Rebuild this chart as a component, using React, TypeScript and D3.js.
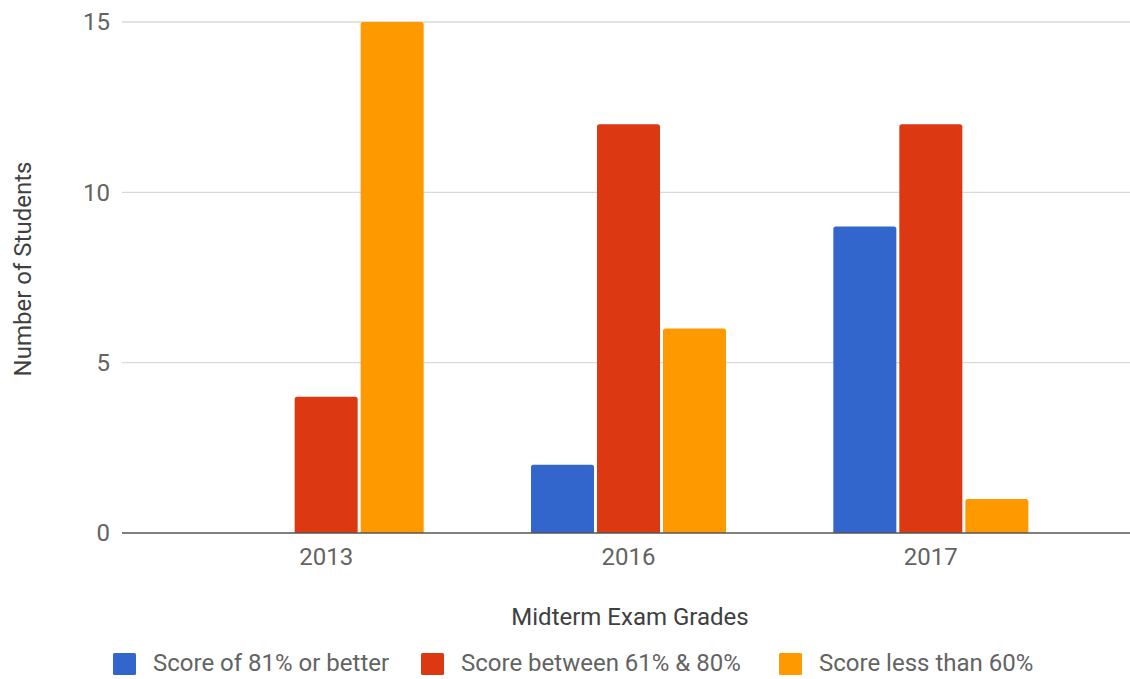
import { useEffect, useRef } from "react";
import * as d3 from "d3";

const years = ["2013", "2016", "2017"];
const seriesNames = [
  "Score of 81% or better",
  "Score between 61% & 80%",
  "Score less than 60%",
];
const seriesColors = ["#3366cc", "#dc3912", "#ff9900"];
const better = [0, 2, 9];
const between = [4, 12, 12];
const lessThan = [15, 6, 1];
const yTicks = [0, 5, 10, 15];

export default function App() {
  const ref = useRef<SVGSVGElement | null>(null);

  useEffect(() => {
    const W = 1130;
    const H = 679;
    const margin = { top: 22, right: 0, bottom: 146, left: 122 };
    const font = "Roboto, Arial, sans-serif";
    const textColor = "#636363";
    const fs = "24px";

    const svg = d3.select(ref.current);
    svg.selectAll("*").remove();

    const values = [better, between, lessThan];

    const y = d3
      .scaleLinear()
      .domain([0, 15])
      .range([H - margin.bottom, margin.top]);

    // category bands (centres at ~326, 628, 931)
    const x0 = d3.scaleBand().domain(years).range([175, 1082]).padding(0);
    const groupW = x0.bandwidth() * 0.645;
    const x1 = d3
      .scaleBand()
      .domain(seriesNames)
      .range([0, groupW])
      .paddingInner(0.045);

    // gridlines
    svg
      .append("g")
      .selectAll("line")
      .data(yTicks.filter((d) => d !== 0))
      .enter()
      .append("line")
      .attr("x1", margin.left)
      .attr("x2", W)
      .attr("y1", (d) => y(d))
      .attr("y2", (d) => y(d))
      .attr("stroke", "#d9d9d9")
      .attr("stroke-width", 1.3);

    // y tick labels
    svg
      .append("g")
      .selectAll("text")
      .data(yTicks)
      .enter()
      .append("text")
      .attr("x", margin.left - 12)
      .attr("y", (d) => y(d))
      .attr("dy", "0.35em")
      .attr("text-anchor", "end")
      .style("font-family", font)
      .style("font-size", fs)
      .style("fill", textColor)
      .text((d) => d);

    // bars
    const cells: { year: string; s: string; v: number; c: string }[] = [];
    years.forEach((yr, i) => {
      seriesNames.forEach((s, j) => {
        cells.push({ year: yr, s, v: values[j][i], c: seriesColors[j] });
      });
    });

    svg
      .append("g")
      .selectAll("path")
      .data(cells.filter((d) => d.v > 0))
      .enter()
      .append("path")
      .attr("d", (d) => {
        const bx =
          (x0(d.year) as number) +
          x0.bandwidth() / 2 -
          groupW / 2 +
          (x1(d.s) as number);
        const bw = x1.bandwidth();
        const top = y(d.v);
        const bottom = y(0);
        const r = 2.5;
        return `M${bx},${bottom}V${top + r}Q${bx},${top} ${bx + r},${top}H${bx + bw - r}Q${bx + bw},${top} ${bx + bw},${top + r}V${bottom}Z`;
      })
      .attr("fill", (d) => d.c);

    // baseline
    svg
      .append("line")
      .attr("x1", margin.left)
      .attr("x2", W)
      .attr("y1", y(0))
      .attr("y2", y(0))
      .attr("stroke", "#555")
      .attr("stroke-width", 1.6);

    // x tick labels
    svg
      .append("g")
      .selectAll("text")
      .data(years)
      .enter()
      .append("text")
      .attr("x", (d) => (x0(d) as number) + x0.bandwidth() / 2)
      .attr("y", y(0) + 32)
      .attr("text-anchor", "middle")
      .style("font-family", font)
      .style("font-size", fs)
      .style("fill", textColor)
      .text((d) => d);

    // axis titles
    svg
      .append("text")
      .attr("x", 630)
      .attr("y", 625)
      .attr("text-anchor", "middle")
      .style("font-family", font)
      .style("font-size", fs)
      .style("fill", "#404040")
      .text("Midterm Exam Grades");

    svg
      .append("text")
      .attr("transform", `translate(31, 269) rotate(-90)`)
      .attr("text-anchor", "middle")
      .style("font-family", font)
      .style("font-size", fs)
      .style("fill", "#404040")
      .text("Number of Students");

    // legend
    const legendX = [113, 421, 779];
    const legend = svg
      .append("g")
      .selectAll("g")
      .data(seriesNames)
      .enter()
      .append("g")
      .attr("transform", (_, i) => `translate(${legendX[i]}, 653)`);

    legend
      .append("rect")
      .attr("width", 23)
      .attr("height", 22)
      .attr("rx", 1.5)
      .attr("fill", (_, i) => seriesColors[i]);

    legend
      .append("text")
      .attr("x", 40)
      .attr("y", 18)
      .style("font-family", font)
      .style("font-size", fs)
      .style("fill", textColor)
      .text((d) => d);
  }, []);

  return (
    <div style={{ position: "absolute", left: 0, top: 0, width: 1130, height: 679, background: "#fff" }}>
      <svg ref={ref} width={1130} height={679} style={{ display: "block" }} />
    </div>
  );
}
